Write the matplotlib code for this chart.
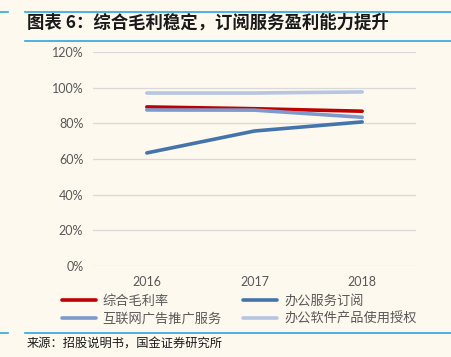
import matplotlib
matplotlib.use("Agg")
import matplotlib.pyplot as plt
from matplotlib.lines import Line2D

plt.rcParams['font.family'] = ['Noto Sans CJK SC', 'DejaVu Sans']

# ---------------- datos ----------------
anios = ['2016', '2017', '2018']
series = ['综合毛利率', '互联网广告推广服务', '办公服务订阅', '办公软件产品使用授权']
margen_total = [0.892, 0.882, 0.868]
publicidad = [0.875, 0.874, 0.834]
suscripcion = [0.634, 0.757, 0.808]
licencias = [0.970, 0.970, 0.976]
ticks_y = [0, 0.2, 0.4, 0.6, 0.8, 1.0, 1.2]
etiquetas_y = ['0%', '20%', '40%', '60%', '80%', '100%', '120%']

fondo = '#FDF9EF'
azul_linea = '#2EA7E0'

fig = plt.figure(figsize=(4.52, 3.57), dpi=100)
fig.patch.set_facecolor(fondo)

# lineas del titulo y pie
def linea_h(y, x0, x1):
    fig.add_artist(Line2D([x0 / 452, x1 / 452], [1 - y / 357, 1 - y / 357],
                          color=azul_linea, lw=1.2))

linea_h(12, 0, 8)
linea_h(12, 25, 452)
linea_h(41, 25, 452)
linea_h(333, 0, 8)
linea_h(333, 25, 452)

fig.text(27 / 452, 1 - 23 / 357, '图表 6：综合毛利稳定，订阅服务盈利能力提升',
         fontsize=12.5, fontweight='bold', style='italic', color='#1a1a1a', va='center')
fig.text(27 / 452, 1 - 344 / 357, '来源：招股说明书，国金证券研究所',
         fontsize=8.8, color='#1a1a1a', va='center')

# ejes
ax = fig.add_axes([93 / 452, 1 - 266 / 357, (416 - 93) / 452, (266 - 52) / 357])
ax.set_facecolor(fondo)
x = range(len(anios))
lineas = [
    (margen_total, '#C00000'),
    (publicidad, '#7C9ACB'),
    (suscripcion, '#4474AE'),
    (licencias, '#B5C5E2'),
]
for valores, color in lineas:
    ax.plot(x, valores, color=color, lw=2.6, solid_capstyle='round', zorder=3)

ax.set_xlim(-0.5, 2.5)
ax.set_ylim(0, 1.2)
ax.set_yticks(ticks_y)
ax.set_yticklabels(etiquetas_y)
ax.set_xticks(list(x))
ax.set_xticklabels(anios)
ax.grid(axis='y', color='#D9D9D9', lw=0.9)
ax.set_axisbelow(True)
for s in ax.spines.values():
    s.set_visible(False)
ax.tick_params(length=0, labelsize=9, colors='#595959', pad=7)
for t in ax.get_xticklabels() + ax.get_yticklabels():
    t.set_fontfamily(['Lato', 'DejaVu Sans'])

# leyenda
handles = [Line2D([0], [0], color=c, lw=2.6, solid_capstyle='round') for _, c in lineas]
leg = fig.legend(handles, series, ncol=2, loc='center left',
                 bbox_to_anchor=(50 / 452, 1 - 310 / 357), frameon=False,
                 fontsize=9.5, handlelength=2.6, columnspacing=1.6,
                 labelspacing=0.35, handletextpad=0.5, labelcolor='#595959')

fig.savefig('out.png', dpi=100, facecolor=fondo)
